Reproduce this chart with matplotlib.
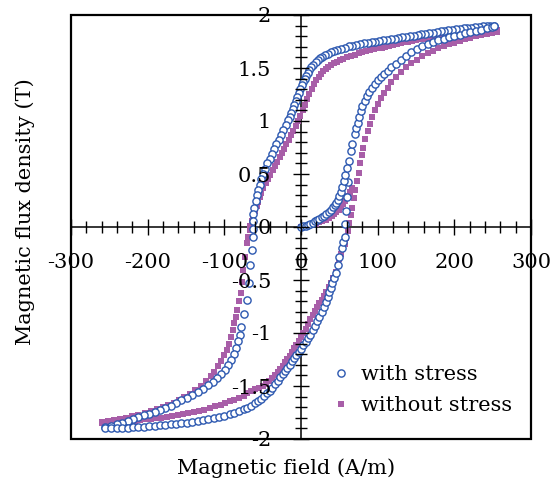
import matplotlib

matplotlib.use("Agg")
import matplotlib.pyplot as plt
from matplotlib.patches import Rectangle
from matplotlib.ticker import FuncFormatter, MultipleLocator

# with stress: descending branch (H in A/m, B in T)
ws_down_h = [252, 247, 242, 237, 232, 227, 222, 217, 212, 207, 202, 197, 192, 187, 182, 177, 172, 167, 162, 157,
             152, 147, 142, 137, 132, 127, 122, 117, 112, 107, 102,
             97, 92, 87, 82, 77, 72, 67, 62, 57, 52, 47, 43, 39, 35, 31, 28, 25, 22, 19, 16,
             13, 11, 9, 7, 5, 3, 1, -1, -3, -5, -7, -9, -11, -13, -15, -17, -20, -23, -26, -29,
             -32, -35, -38, -41, -44, -47, -50, -52, -54, -56, -58, -59, -61, -62, -63,
             -63, -63, -64, -67, -68, -71, -75, -78, -80, -82, -85, -88, -91, -95, -99, -104, -109, -115, -121, -128,
             -135, -142, -149, -156, -163, -170, -177, -184, -191, -198, -205, -212, -219, -226, -233, -240, -248, -256]
ws_down_b = [1.900, 1.898, 1.895, 1.892, 1.889, 1.886, 1.882, 1.878, 1.874, 1.869, 1.865, 1.860, 1.855, 1.850, 1.845,
             1.840, 1.834, 1.829, 1.823, 1.818, 1.812, 1.806, 1.800, 1.795, 1.789, 1.783, 1.777, 1.771, 1.766, 1.760,
             1.755,
             1.750, 1.745, 1.740, 1.734, 1.727, 1.720, 1.712, 1.703, 1.693, 1.683, 1.672, 1.660, 1.648, 1.635, 1.620,
             1.605, 1.590, 1.572, 1.553, 1.532, 1.508, 1.482, 1.455, 1.428, 1.398, 1.368, 1.335, 1.300, 1.262, 1.225,
             1.188, 1.150, 1.112, 1.075, 1.040, 1.005, 0.960, 0.915, 0.870, 0.825, 0.780, 0.735, 0.690, 0.645, 0.600,
             0.550, 0.500, 0.450, 0.400, 0.350, 0.300, 0.250, 0.180, 0.120, 0.060,
             -0.020, -0.090, -0.220, -0.360, -0.530, -0.690, -0.820, -0.940, -1.020, -1.080, -1.140, -1.200, -1.250,
             -1.300, -1.345, -1.390, -1.425, -1.460, -1.495, -1.530, -1.560, -1.585, -1.610, -1.635, -1.660, -1.685,
             -1.705, -1.725, -1.745, -1.760, -1.778, -1.795, -1.812, -1.830, -1.848, -1.862, -1.877, -1.890]

# with stress: ascending branch
ws_up_h = [-256, -248, -240, -233, -226, -219, -212, -205, -198, -191, -184, -177, -170, -163, -156, -149, -142, -135,
           -128, -121, -114, -107, -100, -93, -87, -81, -75, -70, -65, -60, -56, -52, -48, -44, -41, -38, -34, -30,
           -27, -24, -21, -18, -15, -12, -9, -6, -3, 0, 3, 6, 9, 12, 15, 18, 21, 24, 27, 30, 33, 35,
           37, 39, 41, 43, 46, 48, 50, 53, 55, 57, 58, 59, 60, 61, 63, 65, 67, 70, 72, 74,
           76, 78, 80, 83, 86, 89, 92, 96, 100, 104, 108, 113, 118, 124, 130, 137, 144, 151, 158, 165,
           172, 179, 186, 193, 200, 207, 214, 221, 228, 235, 242, 249, 252]
ws_up_b = [-1.900, -1.898, -1.896, -1.894, -1.892, -1.889, -1.886, -1.883, -1.880, -1.876, -1.872, -1.867, -1.862,
           -1.857, -1.851, -1.845, -1.838, -1.830, -1.822, -1.813, -1.803, -1.792, -1.780, -1.766, -1.752, -1.737,
           -1.720, -1.703, -1.684, -1.662, -1.642, -1.620, -1.596, -1.570, -1.545, -1.518, -1.485, -1.450, -1.418,
           -1.388, -1.357, -1.328, -1.298, -1.268, -1.238, -1.208, -1.178, -1.148, -1.115, -1.082, -1.050, -1.015,
           -0.975, -0.935, -0.890, -0.845, -0.800, -0.755, -0.710, -0.665, -0.615, -0.575, -0.530, -0.485, -0.430,
           -0.360, -0.285, -0.200, -0.140, -0.090, 0.030, 0.150, 0.280, 0.420, 0.620, 0.720, 0.780, 0.880, 0.930,
           0.980, 1.040, 1.090, 1.140, 1.190, 1.235, 1.275, 1.310, 1.350, 1.385, 1.415, 1.440, 1.475, 1.505, 1.540,
           1.575, 1.615, 1.650, 1.680, 1.705, 1.725, 1.743, 1.760, 1.775, 1.790, 1.803, 1.815, 1.827, 1.840, 1.852,
           1.863, 1.875, 1.887, 1.895]

# with stress: initial magnetization curve
ws_init_h = [0, 3, 6, 9, 12, 15, 18, 21, 24, 27, 30, 33, 36, 39, 42, 44, 46, 48, 50, 52, 54, 56, 58, 60]
ws_init_b = [0.000, 0.005, 0.012, 0.020, 0.030, 0.040, 0.052, 0.065, 0.078, 0.092, 0.108, 0.125, 0.143, 0.163,
             0.185, 0.205, 0.228, 0.255, 0.290, 0.330, 0.380, 0.430, 0.490, 0.560]

# without stress: descending branch
wo_down_h = [255, 250, 245, 240, 235, 230, 225, 220, 215, 210, 205, 200, 195, 190, 185, 180, 175, 170, 165, 160,
             155, 150, 145, 140, 135, 130, 125, 120, 115, 110, 105, 100, 95, 90, 85, 80, 75, 70, 65, 60,
             55, 51, 47, 43, 39, 35, 32, 29, 26, 23, 20, 17, 14, 11, 8, 5, 2, -1, -4, -7,
             -10, -13, -16, -19, -22, -25, -28, -31, -34, -37, -40, -43, -46, -49, -52, -54, -56, -58, -60, -62,
             -64, -66, -67, -69, -71, -73, -76, -77, -78, -81, -83, -85, -87, -89, -91, -94, -97, -100, -104, -108,
             -113, -118, -124, -131, -138, -145, -152, -159, -166, -173, -180, -188, -196, -204, -212, -220, -228,
             -236, -244, -252, -259]
wo_down_b = [1.860, 1.857, 1.854, 1.851, 1.848, 1.845, 1.842, 1.838, 1.834, 1.830, 1.826, 1.821, 1.816, 1.811, 1.806,
             1.800, 1.794, 1.788, 1.782, 1.776, 1.770, 1.763, 1.756, 1.749, 1.742, 1.735, 1.727, 1.719, 1.711, 1.702,
             1.693, 1.684, 1.675, 1.666, 1.657, 1.647, 1.637, 1.626, 1.614, 1.602, 1.588, 1.575, 1.561, 1.545, 1.527,
             1.507, 1.488, 1.467, 1.443, 1.417, 1.390, 1.350, 1.305, 1.255, 1.205, 1.155, 1.100, 1.050, 1.000, 0.955,
             0.910, 0.865, 0.822, 0.780, 0.738, 0.697, 0.656, 0.615, 0.575, 0.535, 0.495, 0.455, 0.412, 0.368, 0.325,
             0.285, 0.240, 0.195, 0.150, 0.105, 0.060, 0.010, -0.030, -0.090, -0.150, -0.280, -0.410, -0.520, -0.620,
             -0.700, -0.780, -0.850, -0.910, -0.975, -1.040, -1.100, -1.160, -1.210, -1.265, -1.315, -1.365, -1.410,
             -1.455, -1.500, -1.540, -1.575, -1.605, -1.633, -1.658, -1.680, -1.700, -1.720, -1.740, -1.757, -1.772,
             -1.786, -1.800, -1.812, -1.822, -1.832, -1.840]

# without stress: ascending branch
wo_up_h = [-259, -252, -245, -238, -231, -224, -217, -210, -203, -196, -189, -182, -175, -168, -161, -154, -147, -140,
           -133, -126, -119, -112, -105, -99, -93, -87, -81, -75, -70, -65, -60, -55, -50, -46, -42, -38, -34, -30,
           -27, -24, -21, -18, -15, -12, -9, -6, -3, 0, 3, 6, 9, 12, 15, 18, 21, 24, 27, 30, 33, 36,
           39, 42, 45, 48, 50, 52, 54, 57, 59, 61, 63, 65, 67, 69, 71, 73, 75, 77, 79, 81,
           84, 87, 90, 93, 96, 100, 104, 108, 113, 118, 124, 130, 137, 144, 151, 158, 165, 172, 179, 186,
           193, 200, 207, 214, 221, 228, 235, 242, 249, 255]
wo_up_b = [-1.845, -1.843, -1.840, -1.837, -1.834, -1.830, -1.826, -1.821, -1.816, -1.811, -1.805, -1.799, -1.792,
           -1.785, -1.777, -1.768, -1.758, -1.747, -1.735, -1.722, -1.708, -1.693, -1.677, -1.661, -1.645, -1.628,
           -1.610, -1.590, -1.570, -1.550, -1.530, -1.515, -1.500, -1.480, -1.455, -1.425, -1.395, -1.365, -1.337,
           -1.308, -1.278, -1.248, -1.215, -1.180, -1.145, -1.110, -1.075, -1.040, -1.000, -0.960, -0.915, -0.870,
           -0.830, -0.790, -0.755, -0.720, -0.685, -0.650, -0.612, -0.570, -0.528, -0.480, -0.425, -0.360, -0.300,
           -0.250, -0.210, -0.160, -0.100, -0.040, 0.040, 0.110, 0.180, 0.270, 0.350, 0.430, 0.510, 0.600, 0.680,
           0.750, 0.830, 0.905, 0.975, 1.040, 1.100, 1.160, 1.215, 1.265, 1.315, 1.365, 1.415, 1.460, 1.505, 1.545,
           1.580, 1.610, 1.637, 1.662, 1.685, 1.705, 1.723, 1.740, 1.756, 1.771, 1.785, 1.798, 1.810, 1.821, 1.831,
           1.840]

# without stress: initial magnetization curve
wo_init_h = [0, 4, 8, 12, 16, 20, 24, 28, 32, 36, 40, 43, 46, 49, 52, 55, 58, 61, 64, 67]
wo_init_b = [0.000, 0.004, 0.010, 0.016, 0.024, 0.033, 0.043, 0.055, 0.068, 0.083, 0.100, 0.118, 0.138, 0.160,
             0.185, 0.215, 0.250, 0.290, 0.330, 0.365]

BLUE = "#2c58b0"
PURPLE = "#a85ea8"

plt.rcParams["font.family"] = "DejaVu Serif"
plt.rcParams["axes.unicode_minus"] = False

fig = plt.figure(figsize=(5.53, 4.88), dpi=100)
ax = fig.add_axes([71 / 553, 49 / 488, 460 / 553, 424 / 488])

sq = dict(linestyle="none", marker="s", ms=4.7, mfc=PURPLE, mec=PURPLE, mew=0)
ci = dict(linestyle="none", marker="o", ms=5.2, mfc="white", mec=BLUE, mew=1.0)

h_wo = None
for hs, bs in [(wo_down_h, wo_down_b), (wo_up_h, wo_up_b), (wo_init_h, wo_init_b)]:
    h_wo, = ax.plot(hs, bs, zorder=3, **sq)
h_ws = None
for hs, bs in [(ws_down_h, ws_down_b), (ws_up_h, ws_up_b), (ws_init_h, ws_init_b)]:
    h_ws, = ax.plot(hs, bs, zorder=4, **ci)

ax.set_xlim(-300, 300)
ax.set_ylim(-2, 2)

# axes cross at the origin, with a plain frame round the plot area
ax.spines["left"].set_position(("data", 0))
ax.spines["bottom"].set_position(("data", 0))
ax.spines["right"].set_visible(False)
ax.spines["top"].set_visible(False)
for s in ("left", "bottom"):
    ax.spines[s].set_linewidth(1.1)
ax.add_patch(Rectangle((0, 0), 1, 1, transform=ax.transAxes, fill=False,
                       lw=1.6, ec="black", clip_on=False, zorder=5))

ax.xaxis.set_major_locator(MultipleLocator(100))
ax.xaxis.set_minor_locator(MultipleLocator(20))
ax.yaxis.set_major_locator(MultipleLocator(0.5))
ax.yaxis.set_minor_locator(MultipleLocator(0.1))
fmt = FuncFormatter(lambda v, pos: f"{v:g}")
ax.xaxis.set_major_formatter(fmt)
ax.yaxis.set_major_formatter(fmt)

ax.tick_params(which="major", direction="inout", length=11, width=1.0, labelsize=15)
ax.tick_params(which="minor", direction="inout", length=9, width=1.0)
ax.tick_params(axis="x", which="major", pad=13)
ax.tick_params(axis="y", which="major", pad=16)
# keep tick labels readable where the loops run over them
ax.xaxis.set_zorder(5)
ax.yaxis.set_zorder(5)

ax.legend([h_ws, h_wo], ["with stress", "without stress"], loc="upper left",
          bbox_to_anchor=(0.565, 0.175), frameon=False, fontsize=15, borderpad=0,
          handlelength=1.0, handletextpad=0.45, labelspacing=0.6, numpoints=1,
          borderaxespad=0)

fig.text(286 / 553, 1 - 468 / 488, "Magnetic field (A/m)", ha="center", va="center", fontsize=15)
fig.text(25 / 553, 1 - 212 / 488, "Magnetic flux density (T)", ha="center", va="center",
         rotation=90, fontsize=15)

fig.savefig("out.png", dpi=100)
